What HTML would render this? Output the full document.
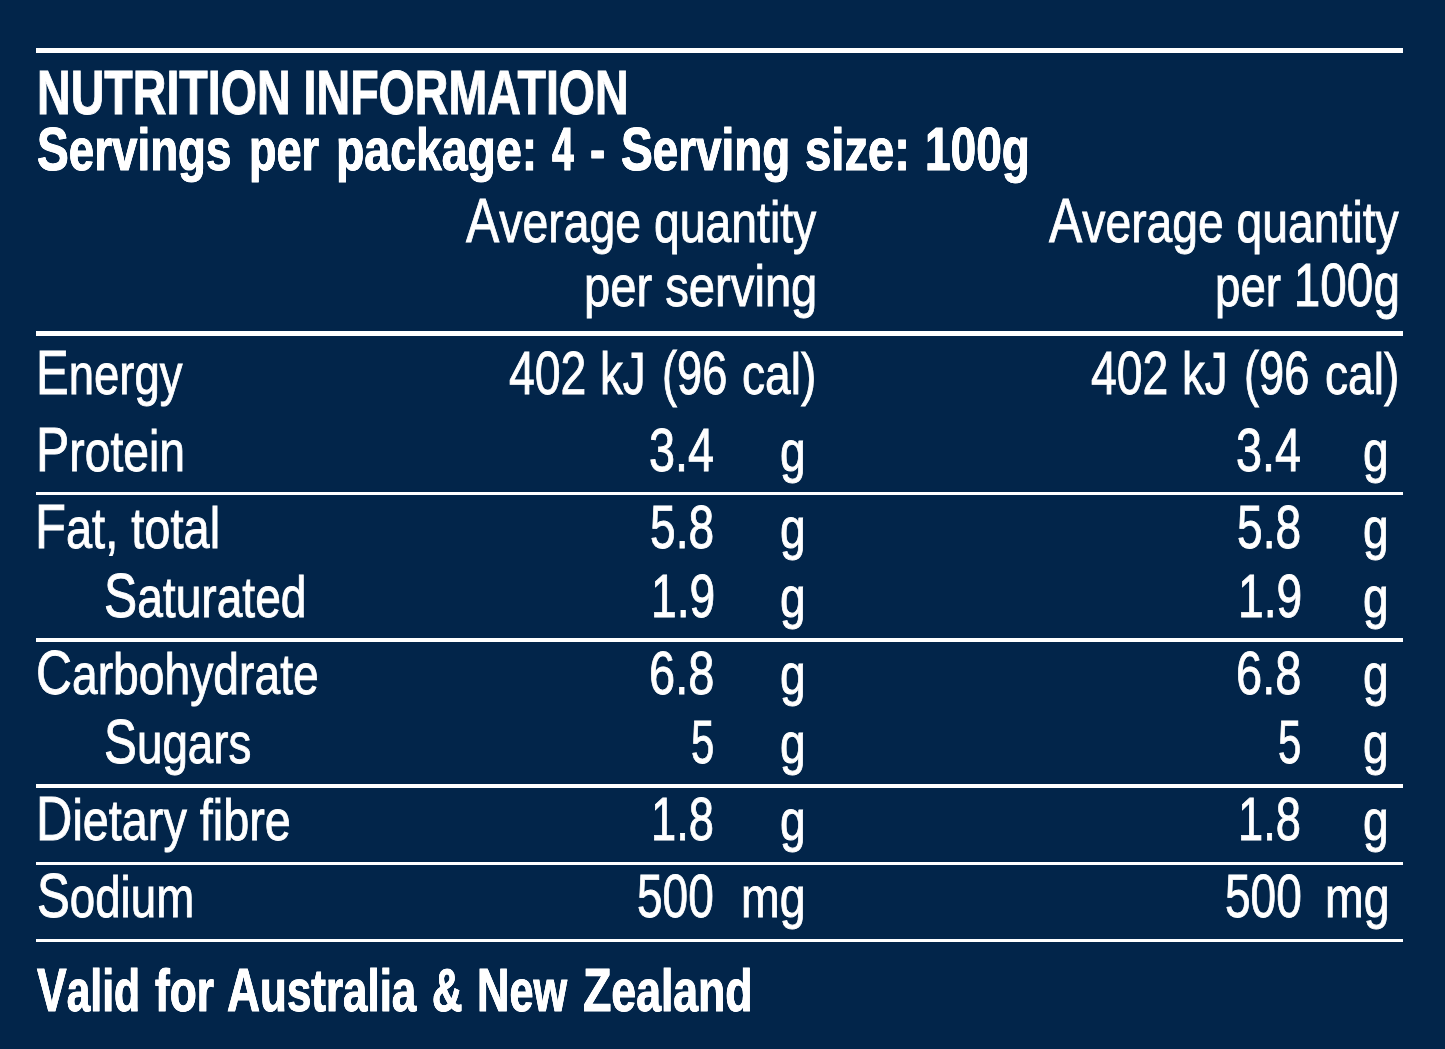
<!DOCTYPE html>
<html lang="en"><head><meta charset="utf-8"><title>Nutrition Information</title>
<style>
html,body{margin:0;padding:0;background:#02254a;}
body{width:1445px;height:1049px;position:relative;overflow:hidden;color:#ffffff;font-family:"Liberation Sans",sans-serif;}
.t{position:absolute;white-space:pre;height:80px;line-height:80px;transform-origin:0 0;margin:0;font-weight:400;font-size:58px;-webkit-text-stroke:0.9px #ffffff;}
.t span{line-height:0;font-size:60.5px;}
.c::first-letter{font-size:62.5px;line-height:0;}
.d{font-size:60.5px;}
.k{font-size:60px;}
.b{font-weight:700;font-size:59.5px;text-shadow:0.3px 0 #ffffff,-0.3px 0 #ffffff;}
.b.c::first-letter{font-size:62px;}
.b.d{font-size:62px;}
.b.h{font-size:62.4px;-webkit-text-stroke-width:1px;text-shadow:none;}
.r{position:absolute;left:36px;width:1367px;background:#ffffff;}
</style></head><body>
<div class="r" style="top:48.1px;height:5px"></div>
<div class="r" style="top:330.9px;height:4.8px"></div>
<div class="r" style="top:491.8px;height:3.4px"></div>
<div class="r" style="top:638.3px;height:3.4px"></div>
<div class="r" style="top:784.3px;height:3.5px"></div>
<div class="r" style="top:861.5px;height:3.5px"></div>
<div class="r" style="top:939px;height:3.4px"></div>
<h1 class="t b h" style="left:36.89px;top:53px;transform:scaleX(0.7467)">NUTRITION INFORMATION</h1>
<div class="t b c" style="left:37.19px;top:110px;transform:scaleX(0.7686)">Servings</div>
<div class="t b" style="left:248.69px;top:110px;transform:scaleX(0.7558)">per</div>
<div class="t b" style="left:335.63px;top:110px;transform:scaleX(0.7798)">package:</div>
<div class="t b d" style="left:552.08px;top:109px;transform:scaleX(0.6326)">4</div>
<div class="t b" style="left:589.93px;top:110px;transform:scaleX(0.7674)">-</div>
<div class="t b c" style="left:620.99px;top:110px;transform:scaleX(0.7695)">Serving</div>
<div class="t b" style="left:805.19px;top:110px;transform:scaleX(0.7942)">size:</div>
<div class="t b d" style="left:925.22px;top:109px;transform:scaleX(0.7431)">100g</div>
<div class="t c" style="left:466.36px;top:182px;transform:scaleX(0.7992)">Average quantity</div>
<div class="t" style="left:583.93px;top:246px;transform:scaleX(0.8133)">per serving</div>
<div class="t c" style="left:1048.96px;top:182px;transform:scaleX(0.7978)">Average quantity</div>
<div class="t" style="left:1214.59px;top:246px;transform:scaleX(0.7885)">per <span>100g</span></div>
<div class="t c" style="left:36.43px;top:334px;transform:scaleX(0.7845)">Energy</div>
<div class="t c" style="left:35.87px;top:411px;transform:scaleX(0.7976)">Protein</div>
<div class="t c" style="left:35.31px;top:488px;transform:scaleX(0.8103)">Fat, total</div>
<div class="t c" style="left:103.97px;top:557px;transform:scaleX(0.7955)">Saturated</div>
<div class="t c" style="left:35.97px;top:634px;transform:scaleX(0.7970)">Carbohydrate</div>
<div class="t c" style="left:103.98px;top:703px;transform:scaleX(0.7895)">Sugars</div>
<div class="t c" style="left:35.83px;top:780px;transform:scaleX(0.8067)">Dietary fibre</div>
<div class="t c" style="left:36.78px;top:857px;transform:scaleX(0.7872)">Sodium</div>
<div class="t b c" style="left:37.43px;top:951px;transform:scaleX(0.7163)">Valid</div>
<div class="t b" style="left:154.50px;top:951px;transform:scaleX(0.7435)">for</div>
<div class="t b c" style="left:226.80px;top:951px;transform:scaleX(0.7382)">Australia</div>
<div class="t b d" style="left:432.45px;top:950px;transform:scaleX(0.6801)">&amp;</div>
<div class="t b c" style="left:477.13px;top:951px;transform:scaleX(0.7250)">New</div>
<div class="t b c" style="left:582.70px;top:951px;transform:scaleX(0.7490)">Zealand</div>
<div class="t d" style="left:649.20px;top:410px;transform:scaleX(0.7731)">3.4</div>
<div class="t" style="left:779.57px;top:411px;transform:scaleX(0.7957)">g</div>
<div class="t d" style="left:1236.40px;top:410px;transform:scaleX(0.7731)">3.4</div>
<div class="t" style="left:1363.47px;top:411px;transform:scaleX(0.7957)">g</div>
<div class="t d" style="left:650.12px;top:487px;transform:scaleX(0.7621)">5.8</div>
<div class="t" style="left:779.57px;top:488px;transform:scaleX(0.7957)">g</div>
<div class="t d" style="left:1237.32px;top:487px;transform:scaleX(0.7621)">5.8</div>
<div class="t" style="left:1363.47px;top:488px;transform:scaleX(0.7957)">g</div>
<div class="t d" style="left:650.79px;top:556px;transform:scaleX(0.7632)">1.9</div>
<div class="t" style="left:779.57px;top:557px;transform:scaleX(0.7957)">g</div>
<div class="t d" style="left:1237.99px;top:556px;transform:scaleX(0.7632)">1.9</div>
<div class="t" style="left:1363.47px;top:557px;transform:scaleX(0.7957)">g</div>
<div class="t d" style="left:648.92px;top:633px;transform:scaleX(0.7765)">6.8</div>
<div class="t" style="left:779.57px;top:634px;transform:scaleX(0.7957)">g</div>
<div class="t d" style="left:1236.12px;top:633px;transform:scaleX(0.7765)">6.8</div>
<div class="t" style="left:1363.47px;top:634px;transform:scaleX(0.7957)">g</div>
<div class="t d" style="left:690.83px;top:702px;transform:scaleX(0.6926)">5</div>
<div class="t" style="left:779.57px;top:703px;transform:scaleX(0.7957)">g</div>
<div class="t d" style="left:1278.03px;top:702px;transform:scaleX(0.6926)">5</div>
<div class="t" style="left:1363.47px;top:703px;transform:scaleX(0.7957)">g</div>
<div class="t d" style="left:651.24px;top:779px;transform:scaleX(0.7485)">1.8</div>
<div class="t" style="left:779.57px;top:780px;transform:scaleX(0.7957)">g</div>
<div class="t d" style="left:1238.44px;top:779px;transform:scaleX(0.7485)">1.8</div>
<div class="t" style="left:1363.47px;top:780px;transform:scaleX(0.7957)">g</div>
<div class="t d" style="left:637.42px;top:856px;transform:scaleX(0.7607)">500</div>
<div class="t" style="left:740.76px;top:857px;transform:scaleX(0.8004)">mg</div>
<div class="t d" style="left:1224.62px;top:856px;transform:scaleX(0.7607)">500</div>
<div class="t" style="left:1324.66px;top:857px;transform:scaleX(0.8004)">mg</div>
<div class="t d" style="left:508.68px;top:333px;transform:scaleX(0.7668)">402</div>
<div class="t k" style="left:599.70px;top:334px;transform:scaleX(0.7618)">kJ</div>
<div class="t d" style="left:661.59px;top:333px;transform:scaleX(0.7473)">(96</div>
<div class="t" style="left:742.47px;top:334px;transform:scaleX(0.7962)">cal)</div>
<div class="t d" style="left:1091.08px;top:333px;transform:scaleX(0.7668)">402</div>
<div class="t k" style="left:1182.10px;top:334px;transform:scaleX(0.7618)">kJ</div>
<div class="t d" style="left:1243.99px;top:333px;transform:scaleX(0.7473)">(96</div>
<div class="t" style="left:1324.87px;top:334px;transform:scaleX(0.7962)">cal)</div>
</body></html>
